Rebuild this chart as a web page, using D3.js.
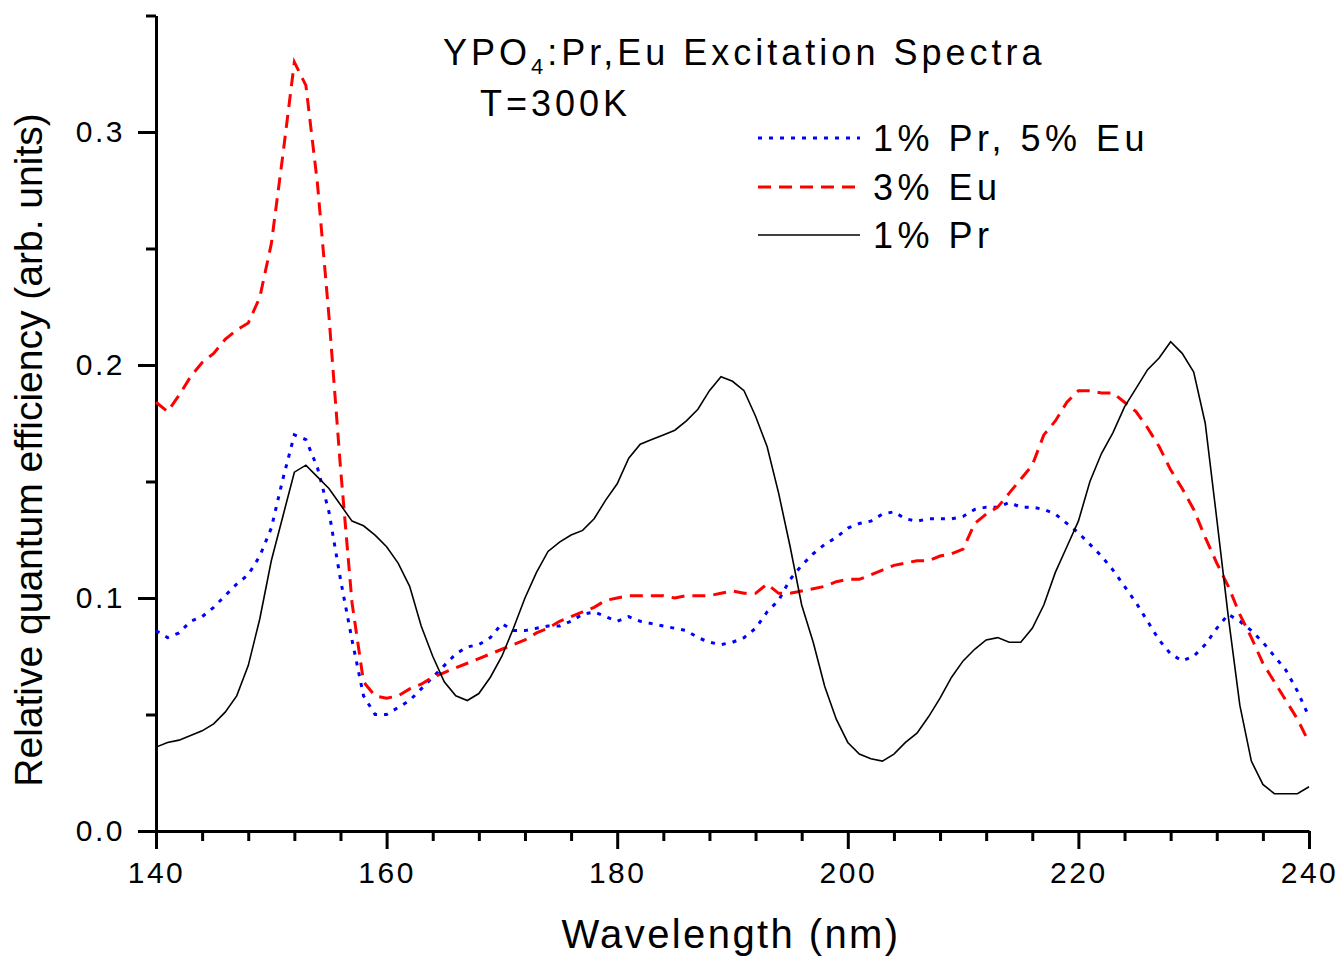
<!DOCTYPE html>
<html>
<head>
<meta charset="utf-8">
<script src="https://cdn.jsdelivr.net/npm/d3@7"></script>
<style>
  body { margin: 0; background: #fff; }
  text { font-family: "Liberation Sans", Arial, sans-serif; fill: #000; }
</style>
</head>
<body>
<div id="chart"></div>
<script>
// wavelength grid (nm)
var wavelength = [140,141,142,143,144,145,146,147,148,149,
  150,151,152,153,154,155,156,157,158,159,
  160,161,162,163,164,165,166,167,168,169,
  170,171,172,173,174,175,176,177,178,179,
  180,181,182,183,184,185,186,187,188,189,
  190,191,192,193,194,195,196,197,198,199,
  200,201,202,203,204,205,206,207,208,209,
  210,211,212,213,214,215,216,217,218,219,
  220,221,222,223,224,225,226,227,228,229,
  230,231,232,233,234,235,236,237,238,239,240]

// 1% Pr, 5% Eu (blue dotted)
var prEu = [.086,.083,.085,.090,.092,.096,.101,.106,.110,.118,
  .130,.151,.170,.168,.156,.137,.108,.082,.058,.050,
  .050,.053,.056,.061,.066,.071,.076,.079,.080,.083,
  .089,.086,.086,.087,.088,.088,.090,.093,.094,.092,
  .090,.092,.090,.089,.088,.087,.086,.083,.081,.080,
  .081,.083,.087,.094,.099,.108,.114,.119,.123,.126,
  .130,.132,.133,.136,.137,.134,.133,.134,.134,.134,
  .135,.138,.139,.139,.141,.139,.139,.138,.136,.132,
  .128,.123,.118,.112,.105,.098,.090,.082,.076,.073,
  .075,.080,.087,.093,.090,.086,.081,.075,.069,.060,.049]

// 3% Eu (red dashed)
var eu = [.184,.180,.187,.195,.201,.205,.211,.215,.218,.229,
  .252,.290,.330,.320,.278,.221,.156,.098,.064,.058,
  .057,.058,.061,.063,.066,.068,.070,.072,.074,.076,
  .078,.080,.082,.085,.087,.090,.092,.094,.096,.099,
  .100,.101,.101,.101,.101,.100,.101,.101,.101,.102,
  .103,.102,.102,.106,.102,.102,.103,.104,.105,.107,
  .108,.108,.110,.112,.114,.115,.116,.116,.118,.119,
  .121,.132,.136,.139,.145,.151,.157,.170,.176,.184,
  .189,.189,.188,.188,.184,.180,.173,.165,.155,.147,
  .138,.126,.115,.105,.093,.083,.072,.064,.056,.048,.038]

// 1% Pr (black solid)
var pr = [.036,.038,.039,.041,.043,.046,.051,.058,.071,.091,
  .116,.135,.154,.157,.152,.147,.140,.133,.131,.127,
  .122,.115,.105,.088,.075,.064,.058,.056,.059,.066,
  .075,.087,.100,.111,.120,.124,.127,.129,.134,.142,
  .149,.160,.166,.168,.170,.172,.176,.181,.189,.195,
  .193,.189,.178,.165,.145,.122,.097,.081,.062,.048,
  .038,.033,.031,.030,.033,.038,.042,.049,.057,.066,
  .073,.078,.082,.083,.081,.081,.087,.097,.111,.122,
  .133,.150,.162,.171,.182,.190,.198,.203,.210,.205,
  .197,.175,.134,.092,.054,.030,.020,.016,.016,.016,.019]

var seriesNames = ["1% Pr, 5% Eu", "3% Eu", "1% Pr"]
var xMajor = [140, 160, 180, 200, 220, 240]
var xMinor = [144,148,152,156,164,168,172,176,184,188,192,196,204,208,212,216,224,228,232,236]
var yMajor = [0, 0.1, 0.2, 0.3]
var yMinor = [0.05, 0.15, 0.25, 0.35]

var width = 1341
var height = 958

var svg = d3.select("#chart")
  .append("svg")
  .attr("width", width)
  .attr("height", height)

var x = d3.scaleLinear()
  .domain([140, 240])
  .range([156, 1309])

var y = d3.scaleLinear()
  .domain([0, 0.35])
  .range([831, 15.5])

// axes
svg.append("g")
  .attr("transform", "translate(0," + y(0) + ")")
  .call(d3.axisBottom(x).tickValues(xMajor).tickSize(18).tickSizeOuter(0).tickPadding(13).tickFormat(d3.format("d")))
svg.append("g")
  .attr("transform", "translate(0," + y(0) + ")")
  .call(d3.axisBottom(x).tickValues(xMinor).tickSize(10).tickSizeOuter(0).tickFormat(""))
  .select(".domain").remove()

svg.append("g")
  .attr("transform", "translate(" + x(140) + ",0)")
  .call(d3.axisLeft(y).tickValues(yMajor).tickSize(18).tickSizeOuter(0).tickPadding(13).tickFormat(d3.format(".1f")))
svg.append("g")
  .attr("transform", "translate(" + x(140) + ",0)")
  .call(d3.axisLeft(y).tickValues(yMinor).tickSize(10).tickSizeOuter(0).tickFormat(""))
  .select(".domain").remove()

svg.selectAll(".domain").attr("stroke", "#000").attr("stroke-width", 3)
svg.selectAll(".tick line").attr("stroke", "#000").attr("stroke-width", 3)
svg.selectAll(".tick text")
  .attr("fill", "#000")
  .style("font-size", "30px")
  .style("letter-spacing", "2.5px")
  .style("font-family", "'Liberation Sans', Arial, sans-serif")

// axis titles
svg.append("text")
  .attr("x", 731)
  .attr("y", 948)
  .attr("text-anchor", "middle")
  .style("font-size", "40px")
  .style("letter-spacing", "2.4px")
  .text("Wavelength (nm)")

svg.append("text")
  .attr("transform", "translate(42,450) rotate(-90)")
  .attr("text-anchor", "middle")
  .style("font-size", "39px")
  .text("Relative quantum efficiency (arb. units)")

// curves
var series = [
  { name: seriesNames[0], values: prEu, color: "#0000ff", width: 3, dash: "4,7" },
  { name: seriesNames[1], values: eu, color: "#ff0000", width: 3, dash: "13,8" },
  { name: seriesNames[2], values: pr, color: "#000000", width: 1.6, dash: null }
]

var line = function (vals) {
  return d3.line()
    .x(function (d, i) { return x(wavelength[i]) })
    .y(function (d) { return y(d) })(vals)
}

svg.append("g")
  .selectAll("path")
  .data(series)
  .enter()
  .append("path")
  .attr("d", function (d) { return line(d.values) })
  .attr("fill", "none")
  .attr("stroke", function (d) { return d.color })
  .attr("stroke-width", function (d) { return d.width })
  .attr("stroke-dasharray", function (d) { return d.dash })

// title
var title = svg.append("text")
  .attr("x", 443)
  .attr("y", 65)
  .style("font-size", "36px")
  .style("letter-spacing", "4px")
title.append("tspan").text("YPO")
title.append("tspan").attr("dy", 9).style("font-size", "22px").text("4")
title.append("tspan").attr("dy", -9).text(":Pr,Eu Excitation Spectra")

svg.append("text")
  .attr("x", 480)
  .attr("y", 116)
  .style("font-size", "36px")
  .style("letter-spacing", "4px")
  .text("T=300K")

// legend
var legend = svg.append("g")
  .selectAll("g")
  .data(series)
  .enter()
  .append("g")
  .attr("transform", function (d, i) { return "translate(0," + [138, 187, 235][i] + ")" })

legend.append("line")
  .attr("x1", 758)
  .attr("x2", 860)
  .attr("stroke", function (d) { return d.color })
  .attr("stroke-width", function (d) { return d.width })
  .attr("stroke-dasharray", function (d) { return d.dash })

legend.append("text")
  .attr("x", 873)
  .attr("y", 13)
  .style("font-size", "36px")
  .style("letter-spacing", "4.5px")
  .text(function (d) { return d.name })
</script>
</body>
</html>
